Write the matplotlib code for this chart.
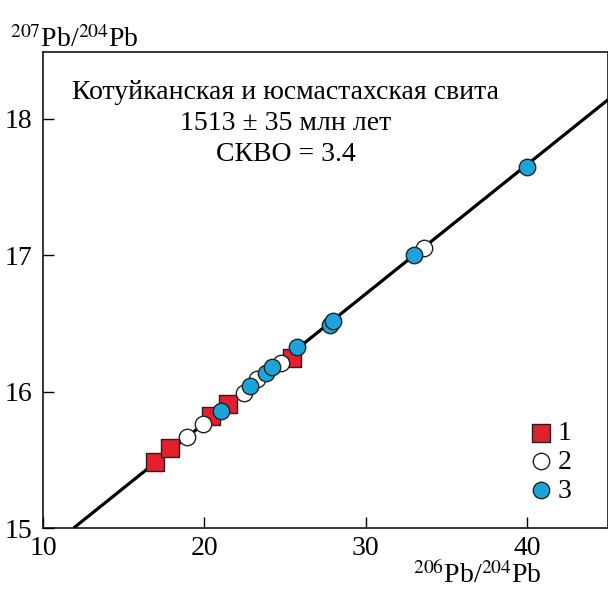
import matplotlib
matplotlib.use("Agg")
import matplotlib.pyplot as plt
import numpy as np

plt.rcParams['font.family'] = ['Liberation Serif', 'DejaVu Serif']
plt.rcParams['mathtext.fontset'] = 'stix'

# Data
x1 = [16.96, 17.88, 20.41, 21.48, 25.41]
y1 = [15.486, 15.59, 15.82, 15.91, 16.245]
x2 = [18.91, 19.94, 22.47, 23.27, 24.75, 33.58]
y2 = [15.665, 15.76, 15.99, 16.09, 16.21, 17.05]
x3 = [21.05, 22.84, 23.83, 24.20, 25.74, 27.76, 27.96, 32.96, 39.96]
y3 = [15.86, 16.04, 16.14, 16.18, 16.33, 16.49, 16.52, 17.00, 17.65]
line_x = [11.9, 45.0]
line_y = [15.0, 18.14]
xticks = [10, 20, 30, 40]
yticks = [15, 16, 17, 18]
labels = ['1', '2', '3']

fig = plt.figure(figsize=(6.08, 5.92), dpi=100)
ax = fig.add_axes([43/608, 1-528/592, 1-43/608, (528-52)/592])
ax.set_xlim(10, 45)
ax.set_ylim(15, 18.49)

ax.plot(line_x, line_y, color='black', lw=2.3, zorder=1, solid_capstyle='butt')

red = '#E3202B'
blue = '#1BA3DA'
ax.scatter(x1, y1, marker='s', s=155, facecolor=red, edgecolor='#222222', lw=1.0, zorder=3, label=labels[0])
ax.scatter(x2, y2, marker='o', s=140, facecolor='white', edgecolor='#222222', lw=1.0, zorder=3, label=labels[1])
ax.scatter(x3, y3, marker='o', s=140, facecolor=blue, edgecolor='#222222', lw=1.0, zorder=4, label=labels[2])

ax.set_xticks(xticks)
ax.set_yticks(yticks)
ax.tick_params(direction='in', length=8, width=1.0, labelsize=20, pad=6)
ax.tick_params(axis='y', pad=8)
for s in ax.spines.values():
    s.set_linewidth(1.1)

fs = 20
ax.text(0.43, 0.914, 'Котуйканская и юсмастахская свита', transform=ax.transAxes,
        ha='center', va='center', fontsize=fs)
ax.text(0.43, 0.849, '1513 ± 35 млн лет', transform=ax.transAxes,
        ha='center', va='center', fontsize=fs)
ax.text(0.43, 0.784, 'СКВО = 3.4', transform=ax.transAxes,
        ha='center', va='center', fontsize=fs)

fig.text(10/608, 1-40/592, r'$^{207}$Pb/$^{204}$Pb', ha='left', va='center', fontsize=fs)
fig.text(413/608, 1-575/592, r'$^{206}$Pb/$^{204}$Pb', ha='left', va='center', fontsize=fs)

leg = ax.legend(loc='center', bbox_to_anchor=((550-43)/565, (528-462)/476),
                frameon=False, fontsize=fs, handletextpad=0.15, labelspacing=0.12,
                borderpad=0, handlelength=0.9, scatterpoints=1)

fig.savefig('out.png', dpi=100)
